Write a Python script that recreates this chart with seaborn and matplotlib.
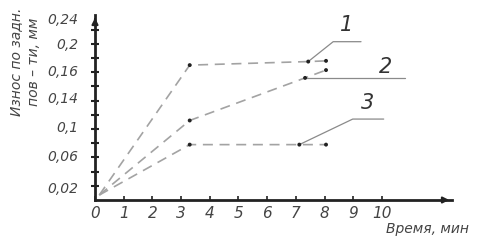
import matplotlib
matplotlib.use("Agg")
import matplotlib.pyplot as plt
import seaborn as sns
import pandas as pd
from matplotlib import font_manager

sns.set_style("white")
fams = [f.name for f in font_manager.fontManager.ttflist]
narrow = "Liberation Sans Narrow" if "Liberation Sans Narrow" in fams else "DejaVu Sans"
plt.rcParams['font.family'] = [narrow, 'DejaVu Sans']

# ---- data ----
series_names = ["1", "2", "3"]
x1 = [0.15, 3.3, 7.43, 8.05]
y1 = [0.007, 0.190, 0.195, 0.196]
x2 = [0.15, 3.3, 7.32, 8.05]
y2 = [0.007, 0.112, 0.172, 0.183]
x3 = [0.15, 3.3, 7.12, 8.05]
y3 = [0.007, 0.078, 0.078, 0.078]

x_ticks = [0, 1, 2, 3, 4, 5, 6, 7, 8, 9, 10]
x_ticklabels = ["0", "1", "2", "3", "4", "5", "6", "7", "8", "9", "10"]
y_minor_ticks = [0.02 * i for i in range(1, 13)]
y_label_pos = [0.017, 0.063, 0.103, 0.144, 0.182, 0.221, 0.256]
y_ticklabels = ["0,02", "0,06", "0,1", "0,14", "0,16", "0,2", "0,24"]

# leader lines
leader_1 = dict(px=7.43, py=0.195, ex=8.30, ey=0.223, endx=9.27, lx=8.78, ly=0.246)
leader_2 = dict(px=7.32, py=0.172, ex=7.32, ey=0.172, endx=10.80, lx=10.14, ly=0.188)
leader_3 = dict(px=7.12, py=0.078, ex=8.98, ey=0.114, endx=10.06, lx=9.51, ly=0.136)
leaders = [leader_1, leader_2, leader_3]

df = pd.concat([
    pd.DataFrame({"t": x1, "w": y1, "s": "1"}),
    pd.DataFrame({"t": x2, "w": y2, "s": "2"}),
    pd.DataFrame({"t": x3, "w": y3, "s": "3"}),
], ignore_index=True)

fig = plt.figure(figsize=(4.78, 2.45), dpi=100)
ax = fig.add_axes([95/478, 45/245, 357/478, 185/245])
ax.set_xlim(0, 12.44)
ax.set_ylim(0, 0.2606)

grey = "#a3a3a3"
for name in series_names:
    sub = df[df.s == name]
    sns.lineplot(data=sub, x="t", y="w", ax=ax, color=grey, lw=1.2,
                 estimator=None, sort=False, legend=False)
for l in ax.lines:
    l.set_dashes([6, 4])
pts = df[df.t > 1]
sns.scatterplot(data=pts, x="t", y="w", ax=ax, color="#222222", s=8,
                edgecolor="none", legend=False, zorder=5)

for lead, name in zip(leaders, series_names):
    ax.plot([lead["px"], lead["ex"], lead["endx"]],
            [lead["py"], lead["ey"], lead["ey"]], color="#8a8a8a", lw=0.9)
    ax.text(lead["lx"], lead["ly"], name, fontsize=15, style="italic",
            color="#333333", ha="center", va="center")

# axes
for sp in ["top", "right"]:
    ax.spines[sp].set_visible(False)
for sp in ["left", "bottom"]:
    ax.spines[sp].set_linewidth(2.0)
    ax.spines[sp].set_color("#222222")
ax.annotate("", xy=(1, 0), xycoords="axes fraction", xytext=(0.97, 0),
            arrowprops=dict(arrowstyle="-|>", color="#222222", lw=1.5,
                            mutation_scale=9))
ax.annotate("", xy=(0, 1), xycoords="axes fraction", xytext=(0, 0.96),
            arrowprops=dict(arrowstyle="-|>", color="#222222", lw=1.5,
                            mutation_scale=9))

ax.set_xticks(x_ticks)
ax.set_xticklabels(x_ticklabels, fontsize=11, style="italic", color="#444444")
ax.tick_params(axis="x", which="major", bottom=True, direction="in", length=3,
               width=1.2, color="#222222", pad=4)

ax.set_yticks(y_label_pos)
ax.set_yticklabels(y_ticklabels, fontsize=10, style="italic", color="#444444")
ax.tick_params(axis="y", which="major", left=True, length=0, pad=12)
ax.set_yticks(y_minor_ticks, minor=True)
ax.tick_params(axis="y", which="minor", left=True, direction="inout", length=6,
               width=1.5, color="#222222")
ax.set_xlabel("")
ax.set_ylabel("")

fig.text(25/478, 1 - 62/245, "Износ по задн.\nпов – ти, мм", rotation=90,
         ha="center", va="center", fontsize=10, style="italic",
         color="#444444", linespacing=1.35)
fig.text(428/478, 16/245, "Время, мин", ha="center", va="center",
         fontsize=10, style="italic", color="#444444")

fig.savefig("out.png", dpi=100)
